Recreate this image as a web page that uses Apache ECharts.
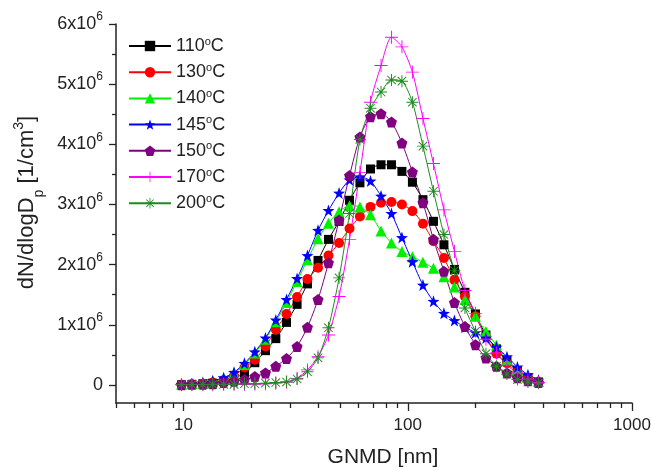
<!DOCTYPE html>
<html><head><meta charset="utf-8">
<script src="https://cdn.jsdelivr.net/npm/echarts@6/dist/echarts.min.js"></script>
<style>html,body{margin:0;padding:0;background:#fff}#c{width:651px;height:468px}</style>
</head><body><div id="c"></div>
<script>
// Geometric number mean diameters (nm)
var diam = [9.8,10.9,12.2,13.5,15.1,16.8,18.7,20.8,23.2,25.8,28.8,32.1,35.7,39.8,44.3,49.4,55.0,61.2,68.2,76.0,84.6,94.2,104.9,116.9,130.2,145.0,161.5,179.9,200.4,223.2,248.6,276.9,308.4,343.5,382.6];
// dN/dlogDp in units of 10^6 1/cm3
var s110 = [0.005,0.01,0.02,0.03,0.06,0.11,0.2,0.37,0.57,0.77,1.04,1.34,1.68,2.07,2.42,2.72,3.07,3.36,3.59,3.66,3.66,3.55,3.37,3.08,2.72,2.33,1.92,1.54,1.18,0.83,0.6,0.4,0.24,0.12,0.05];
var s130 = [0.005,0.01,0.02,0.04,0.08,0.15,0.29,0.42,0.64,0.92,1.18,1.46,1.76,1.95,2.15,2.36,2.6,2.8,2.96,3.03,3.04,3.0,2.89,2.68,2.39,2.11,1.75,1.47,1.14,0.8,0.52,0.36,0.22,0.12,0.05];
var s140 = [0.01,0.02,0.03,0.06,0.11,0.2,0.34,0.53,0.76,1.05,1.37,1.72,2.08,2.43,2.69,2.88,2.98,2.96,2.83,2.56,2.36,2.22,2.13,2.04,1.94,1.8,1.63,1.42,1.14,0.89,0.66,0.42,0.26,0.14,0.06];
var s145 = [0.01,0.02,0.04,0.07,0.12,0.21,0.36,0.55,0.78,1.08,1.42,1.77,2.15,2.57,2.9,3.19,3.41,3.46,3.39,3.14,2.85,2.45,2.05,1.66,1.39,1.19,1.07,0.96,0.87,0.78,0.63,0.47,0.3,0.17,0.08];
var s150 = [0.005,0.01,0.01,0.02,0.04,0.06,0.09,0.14,0.2,0.31,0.44,0.64,0.96,1.42,2.03,2.74,3.48,4.12,4.46,4.51,4.37,4.02,3.54,3.03,2.42,1.89,1.37,0.97,0.67,0.45,0.31,0.2,0.12,0.07,0.04];
var s170 = [0.005,0.005,0.005,0.005,0.01,0.01,0.01,0.015,0.02,0.03,0.05,0.11,0.25,0.47,0.83,1.47,2.42,3.53,4.7,5.31,5.78,5.62,5.2,4.43,3.68,2.91,2.22,1.57,1.19,0.76,0.53,0.33,0.2,0.1,0.04];
var s200 = [0.005,0.005,0.005,0.01,0.01,0.01,0.02,0.02,0.03,0.04,0.05,0.1,0.22,0.45,0.95,1.78,2.85,4.08,4.6,4.87,5.07,5.05,4.7,3.97,3.22,2.5,1.9,1.28,0.89,0.52,0.31,0.18,0.09,0.05,0.03];

var seriesNames = ['110','130','140','145','150','170','200'];
var xMajor = [10,100,1000];
var xMinor = [5,6,7,8,9,20,30,40,50,60,70,80,90,200,300,400,500,600,700,800,900];
var yMajor = [0,1,2,3,4,5,6];
var yMinor = [0.5,1.5,2.5,3.5,4.5,5.5];

var SYM = {
  rect: 'rect', circle: 'circle', triangle: 'triangle',
  star: 'path://M0,-10 L2.35,-3.24 L9.51,-3.09 L3.80,1.24 L5.88,8.09 L0,4 L-5.88,8.09 L-3.80,1.24 L-9.51,-3.09 L-2.35,-3.24 Z',
  pent: 'path://M0,-10 L9.51,-3.09 L5.88,8.09 L-5.88,8.09 L-9.51,-3.09 Z',
  plus: 'path://M-0.7,-10 L0.7,-10 L0.7,-0.7 L10,-0.7 L10,0.7 L0.7,0.7 L0.7,10 L-0.7,10 L-0.7,0.7 L-10,0.7 L-10,-0.7 L-0.7,-0.7 Z',
  ast: 'path://M-0.8,-10 L0.8,-10 L0.8,10 L-0.8,10 Z M-10,-0.8 L10,-0.8 L10,0.8 L-10,0.8 Z M-7.6,-6.5 L-6.5,-7.6 L7.6,6.5 L6.5,7.6 Z M6.5,-7.6 L7.6,-6.5 L-6.5,7.6 L-7.6,6.5 Z'
};

var defs = [
  {d: s110, c: '#000000', s: SYM.rect, z: 9},
  {d: s130, c: '#ff0000', s: SYM.circle, z: 10},
  {d: s140, c: '#00f000', s: SYM.triangle, z: 11},
  {d: s145, c: '#0000ff', s: SYM.star, z: 12},
  {d: s150, c: '#800080', s: SYM.pent, z: 11},
  {d: s170, c: '#ff00ff', s: SYM.plus, z: 13},
  {d: s200, c: '#1f8a1f', s: SYM.ast, z: 12}
];

var FONT = 'Liberation Sans, Arial, sans-serif';
var TXT = '#222';
var series = defs.map(function (def, i) {
  return {
    name: seriesNames[i],
    type: 'line',
    xAxisIndex: 0, yAxisIndex: 0,
    data: diam.map(function (x, k) { return [x, def.d[k]]; }),
    symbol: def.s,
    symbolSize: def.z,
    smooth: 0.25,
    showAllSymbol: true,
    lineStyle: {color: def.c, width: 1},
    itemStyle: {color: def.c},
    emphasis: {disabled: true},
    animation: false
  };
});

var chart = echarts.init(document.getElementById('c'), null, {renderer: 'canvas'});
chart.setOption({
  animation: false,
  backgroundColor: '#fff',
  grid: {left: 116, right: 19, top: 24, bottom: 65, containLabel: false, outerBoundsMode: 'none'},
  legend: {
    orient: 'vertical', left: 123, top: 31,
    itemWidth: 42, itemHeight: 13, itemGap: 7.2,
    data: seriesNames,
    formatter: function (n) { return '{b|' + n + '}{sup|o}{b|C}'; },
    textStyle: {fontFamily: FONT, fontSize: 18, color: TXT,
      rich: {
        b: {fontFamily: FONT, fontSize: 18, lineHeight: 20, color: TXT},
        sup: {fontFamily: FONT, fontSize: 11, verticalAlign: 'top', lineHeight: 11, color: TXT}}}
  },
  xAxis: [{
    type: 'log', logBase: 10, min: 5, max: 1000,
    name: 'GNMD [nm]', nameLocation: 'middle', nameGap: 44,
    nameTextStyle: {fontFamily: FONT, fontSize: 21, color: TXT, padding: [0, 0, 0, 18]},
    axisLine: {show: true, onZero: false, lineStyle: {color: TXT, width: 1.5}},
    axisTick: {show: true, inside: false, length: 8, customValues: xMajor, lineStyle: {color: TXT, width: 1.3}},
    axisLabel: {show: true, customValues: xMajor, margin: 14, fontFamily: FONT, fontSize: 17, color: TXT,
      formatter: function (v) { return String(Math.round(v)); }},
    splitLine: {show: false}, minorTick: {show: false}
  }, {
    type: 'log', logBase: 10, min: 5, max: 1000, position: 'bottom',
    axisLine: {show: false, onZero: false},
    axisTick: {show: true, inside: false, length: 5, customValues: xMinor, lineStyle: {color: TXT, width: 1.3}},
    axisLabel: {show: false}, splitLine: {show: false}
  }],
  yAxis: [{
    type: 'value', min: -0.3, max: 6,
    name: 'dN/dlogD{sub|p} [1/cm{sup|3}]', nameLocation: 'middle', nameGap: 78,
    nameTextStyle: {fontFamily: FONT, fontSize: 22, color: TXT, padding: [0, 0, 0, 22],
      rich: {
        sub: {fontFamily: FONT, fontSize: 14, verticalAlign: 'bottom', lineHeight: 14, padding: [0,0,-8,0], color: TXT},
        sup: {fontFamily: FONT, fontSize: 14, verticalAlign: 'top', lineHeight: 14, padding: [-4,0,0,0], color: TXT}}},
    axisLine: {show: true, onZero: false, lineStyle: {color: TXT, width: 1.5}},
    axisTick: {show: true, inside: false, length: 7, customValues: yMajor, lineStyle: {color: TXT, width: 1.3}},
    axisLabel: {show: true, customValues: yMajor, margin: 13, fontFamily: FONT, fontSize: 18, color: TXT,
      formatter: function (v) { return v === 0 ? '{b|0}' : '{b|' + v + 'x10}{sup|6}'; },
      rich: {
        b: {fontFamily: FONT, fontSize: 18, lineHeight: 26, color: TXT},
        sup: {fontFamily: FONT, fontSize: 12, verticalAlign: 'top', lineHeight: 12, color: TXT}}},
    splitLine: {show: false}
  }, {
    type: 'value', min: -0.3, max: 6, position: 'left',
    axisLine: {show: false, onZero: false},
    axisTick: {show: true, inside: false, length: 4, customValues: yMinor, lineStyle: {color: TXT, width: 1.3}},
    axisLabel: {show: false}, splitLine: {show: false}
  }],
  series: series
});
</script></body></html>
